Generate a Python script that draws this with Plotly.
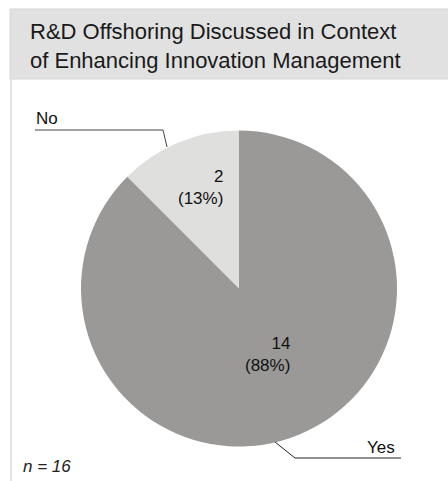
import plotly.graph_objects as go

# ---- data ----
categories = ["No", "Yes"]
counts = [2, 14]
n_total = 16
title_lines = ["R&D Offshoring Discussed in Context", "of Enhancing Innovation Management"]

W, H = 448, 481
FONT = "Liberation Sans, Arial, Helvetica, sans-serif"
slice_colors = ["#dfdfde", "#9a9998"]

# pie geometry (page pixels)
cx, cy, r = 239, 288.5, 158


def px(x):
    return x / W


def py(y):
    return 1 - y / H


total = sum(counts)
first_angle = 360 * counts[0] / total

fig = go.Figure()
fig.add_trace(go.Pie(
    labels=categories,
    values=counts,
    sort=False,
    direction="counterclockwise",
    rotation=-first_angle,
    marker=dict(colors=slice_colors, line=dict(width=0)),
    textinfo="none",
    hoverinfo="label+value+percent",
    showlegend=False,
    domain=dict(x=[px(cx - r), px(cx + r)], y=[py(cy + r), py(cy - r)]),
))

pcts = [int(100 * c / total + 0.5) for c in counts]

annotations = []
inside_pos = [(225, 187), (292, 354)]
for (x, y), c, p in zip(inside_pos, counts, pcts):
    annotations.append(dict(
        x=px(x), y=py(y), xref="paper", yref="paper", xanchor="right", yanchor="middle",
        text=f"{c}<br>({p}%)", showarrow=False, align="right",
        font=dict(family=FONT, size=17, color="#111111"),
    ))

annotations.append(dict(x=px(34), y=py(118), xref="paper", yref="paper", xanchor="left", yanchor="middle",
                        text=categories[0], showarrow=False, font=dict(family=FONT, size=17, color="#111111")))
annotations.append(dict(x=px(397), y=py(447), xref="paper", yref="paper", xanchor="right", yanchor="middle",
                        text=categories[1], showarrow=False, font=dict(family=FONT, size=17, color="#111111")))

annotations.append(dict(x=px(28), y=py(46), xref="paper", yref="paper", xanchor="left", yanchor="middle",
                        text="<br>".join(title_lines), showarrow=False, align="left",
                        font=dict(family=FONT, size=22, color="#1a1a1a")))
annotations.append(dict(x=px(21), y=py(466), xref="paper", yref="paper", xanchor="left", yanchor="middle",
                        text=f"<i>n = {n_total}</i>", showarrow=False,
                        font=dict(family=FONT, size=17, color="#222222")))

shapes = [
    dict(type="rect", xref="paper", yref="paper", x0=px(10), x1=1.05, y0=py(79), y1=py(9),
         fillcolor="#e1e1e1", line=dict(color="#d6d6d6", width=1), layer="below"),
    dict(type="line", xref="paper", yref="paper", x0=px(11), x1=px(11), y0=py(79), y1=-0.05,
         line=dict(color="#e2e2e2", width=2)),
    dict(type="path", xref="paper", yref="paper",
         path=f"M {px(35)} {py(130)} L {px(163)} {py(130)} L {px(167)} {py(147)}",
         line=dict(color="#444444", width=1)),
    dict(type="path", xref="paper", yref="paper",
         path=f"M {px(275)} {py(442)} L {px(295)} {py(458)} L {px(401)} {py(458)}",
         line=dict(color="#222222", width=1)),
]

fig.update_layout(
    width=W, height=H,
    margin=dict(l=0, r=0, t=0, b=0),
    paper_bgcolor="white",
    plot_bgcolor="white",
    annotations=annotations,
    shapes=shapes,
    font=dict(family=FONT),
)

fig.write_html(
    "out.html",
    config={"displayModeBar": False},
    post_script="document.body.style.margin='0';document.body.style.overflow='hidden';",
)
